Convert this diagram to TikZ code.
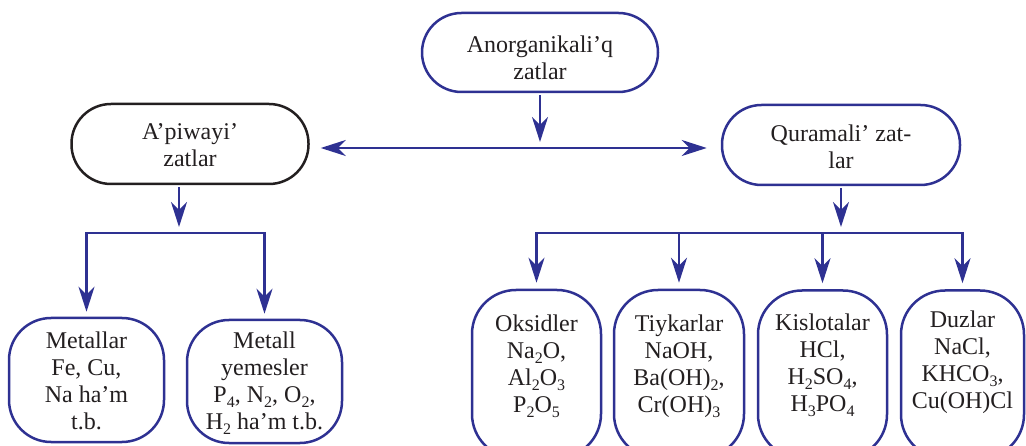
\documentclass[tikz,border=0pt]{standalone}
\usepackage{fontspec}
\setmainfont{Liberation Serif}
\usetikzlibrary{arrows.meta}
\definecolor{navy}{HTML}{2E3192}
\definecolor{ink}{HTML}{231F20}
% chemical subscript
\newcommand\chsub[1]{\raisebox{-5pt}{\fontsize{16}{16}\selectfont #1}}

\begin{document}
\begin{tikzpicture}[x=1pt, y=-1pt,
  txt/.style={font=\fontsize{24}{27}\selectfont, text=ink, align=center,
              inner sep=0pt, anchor=north},
  frame/.style={draw=navy, line width=2.5pt, inner sep=0pt},
  pill/.style={frame, rounded corners=39.5pt, minimum height=80pt, minimum width=#1},
  leaf/.style={frame, rounded corners=42pt, minimum width=155pt},
  kind/.style={frame, rounded corners=44pt, minimum height=168pt},
  link/.style={draw=navy, line width=2.4pt, line cap=rect,
               >={Stealth[length=25pt, width=16pt, inset=8pt]}},
]
\useasboundingbox (0,0) rectangle (1026,446);
\clip (0,0) rectangle (1026,446);

% upper level
\node[pill=236pt, minimum height=79pt] (btop) at (540,52.5) {};
\node[pill=237pt, draw=ink] (bapw) at (190,144) {};
\node[pill=238pt] (bqur) at (841,145) {};

\node[txt] (ttop) at (540,36) {Anorganikali’q\\zatlar};
\node[txt] (tapw) at (190,123.6) {A’piwayi’\\zatlar};
\node[txt] (tqur) at (841,124.3) {Quramali’ zat-\\lar};

% simple substances
\node[leaf, minimum height=124pt] (bmet) at (86.5,380) {};
\node[leaf, minimum height=123pt] (bnm) at (264.5,381.5) {};
\node[txt] (tmet) at (86.5,332) {Metallar\\Fe, Cu,\\Na ha’m\\t.b.};
\node[txt] (tnm) at (264.5,332) {Metall\\yemesler\\P\chsub{4}, N\chsub{2}, O\chsub{2},\\H\chsub{2} ha’m t.b.};

% compound substances
\node[kind, minimum width=129pt] (boks) at (536.5,374) {};
\node[kind, minimum width=130pt] (btiy) at (679,374) {};
\node[kind, minimum width=129pt] (bkis) at (822.5,374.5) {};
\node[kind, minimum width=123pt] (bduz) at (962.5,374.5) {};
\node[txt] (toks) at (536.5,314.6) {Oksidler\\Na\chsub{2}O,\\Al\chsub{2}O\chsub{3}\\P\chsub{2}O\chsub{5}};
\node[txt] (ttiy) at (679,314.6) {Tiykarlar\\NaOH,\\Ba(OH)\chsub{2},\\Cr(OH)\chsub{3}};
\node[txt] (tkis) at (822.5,313.6) {Kislotalar\\HCl,\\H\chsub{2}SO\chsub{4},\\H\chsub{3}PO\chsub{4}};
\node[txt] (tduz) at (962.5,310.6) {Duzlar\\NaCl,\\KHCO\chsub{3},\\Cu(OH)Cl};

% connectors
\coordinate (hub) at (540,148);
\coordinate (bar) at (0,233);
\coordinate (lsrc) at ([xshift=-11pt]bapw.south);

\draw[link, ->, shorten <=3pt, shorten >=6pt] (btop.south) -- (btop.south |- hub);
\draw[link, <->, shorten <=11pt, shorten >=14pt] (bapw.east |- hub) -- (bqur.west |- hub);

\draw[link, ->, shorten <=3pt, shorten >=6pt] (lsrc) -- (lsrc |- bar);
\draw[link] (bmet.north |- bar) -- (bnm.north |- bar);
\draw[link, ->, shorten >=5pt] (bmet.north |- bar) -- (bmet.north);
\draw[link, ->, shorten >=5pt] (bnm.north |- bar) -- (bnm.north);

\draw[link, ->, shorten <=3pt, shorten >=6pt] (bqur.south) -- (bqur.south |- bar);
\draw[link] (boks.north |- bar) -- (bduz.north |- bar);
\draw[link, ->, shorten >=6pt] (boks.north |- bar) -- (boks.north);
\draw[link, ->, shorten >=6pt] (btiy.north |- bar) -- (btiy.north);
\draw[link, ->, shorten >=6pt] (bkis.north |- bar) -- (bkis.north);
\draw[link, ->, shorten >=6pt] (bduz.north |- bar) -- (bduz.north);
\end{tikzpicture}
\end{document}
